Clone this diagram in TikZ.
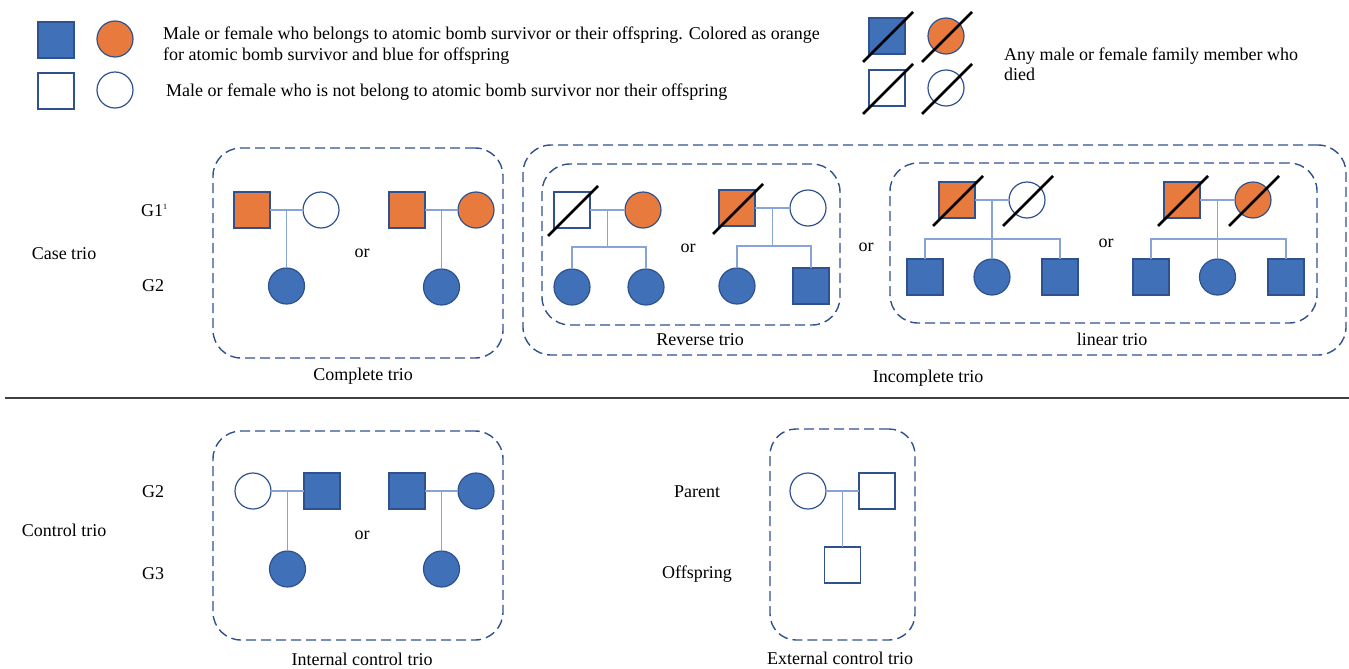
\documentclass[tikz,border=0pt]{standalone}
\usepackage{fontspec}
\setmainfont{Liberation Serif}
\usetikzlibrary{calc}
\definecolor{pblue}{HTML}{3F70B8}
\definecolor{porange}{HTML}{E87A3E}
\definecolor{pline}{HTML}{2F528F}
\definecolor{kinline}{HTML}{86A4D8}
\newcommand\deadmark[1]{\draw[slashline] ([shift={(-24,26)}]#1.center) -- ([shift={(26,-24)}]#1.center);}
\begin{document}
\begin{tikzpicture}[x=1pt,y=-1pt,font=\fontsize{18}{21.6}\selectfont,
  person/.style={draw=pline, line width=1.2pt, inner sep=0pt, outer sep=0pt},
  sq/.style={person, rectangle, minimum size=36pt},
  ci/.style={person, circle, minimum size=36pt},
  fb/.style={fill=pblue}, fo/.style={fill=porange}, fw/.style={fill=white},
  kin/.style={draw=kinline, line width=1.1pt},
  slashline/.style={draw=black, line width=2.8pt},
  dbox/.style={draw=pline, line width=1.4pt, dash pattern=on 10pt off 5pt, rounded corners=28pt, inner sep=0pt, rectangle},
  txt/.style={inner sep=0pt, anchor=base},
  txtw/.style={inner sep=0pt, anchor=base west},
  sepline/.style={draw=black!75, line width=1.2pt}]
\useasboundingbox (0,0) rectangle (1349,669);

% ---------- legend ----------
\node[sq,fb] (lg1) at (56,40) {};
\node[ci,fo] (lg2) at (115,39) {};
\node[sq,fw] (lg3) at (56,91) {};
\node[ci,fw] (lg4) at (115,90) {};
\node[txtw] (lt1) at (163,40) {Male or female who belongs to atomic bomb survivor or their offspring. Colored as orange};
\node[txtw] (lt2) at (163,61) {for atomic bomb survivor and blue for offspring};
\node[txtw] (lt3) at (166,96) {Male or female who is not belong to atomic bomb survivor nor their offspring};

\node[sq,fb] (ld1) at (887,36) {};
\node[ci,fo] (ld2) at (946,36) {};
\node[sq,fw] (ld3) at (887,88) {};
\node[ci,fw] (ld4) at (946,88) {};
\deadmark{ld1}\deadmark{ld2}\deadmark{ld3}\deadmark{ld4}
\node[txtw] (lt4) at (1004,60) {Any male or female family member who};
\node[txtw] (lt5) at (1004,81) {died};

% ---------- case trio labels ----------
\node[txt] (case) at (64,259) {Case trio};
\node[txtw] (g1) at (141,216) {G1\textsuperscript{\fontsize{8}{8}\selectfont 1}};
\node[txtw] (g2a) at (142,291) {G2};

% ---------- complete trio ----------
\node[dbox, minimum width=290pt, minimum height=210pt] (cbox) at (358,253) {};
\node[txt] (clbl) at (363,380) {Complete trio};
\node[sq,fo] (c1f) at (252,210) {};
\node[ci,fw] (c1m) at (321,210) {};
\coordinate (c1x) at ($(c1f.east)!.5!(c1m.west)$);
\node[ci,fb] (c1k) at ($(c1x)+(0,76)$) {};
\draw[kin] (c1f) -- (c1m);
\draw[kin] (c1x) -- (c1k.north);
\node[txt] (or1) at (362,257) {or};
\node[sq,fo] (c2f) at (407,210) {};
\node[ci,fo] (c2m) at (476,210) {};
\coordinate (c2x) at ($(c2f.east)!.5!(c2m.west)$);
\node[ci,fb] (c2k) at ($(c2x)+(0,77)$) {};
\draw[kin] (c2f) -- (c2m);
\draw[kin] (c2x) -- (c2k.north);

% ---------- incomplete trio ----------
\node[dbox, minimum width=823pt, minimum height=210pt] (ibox) at (934.5,250) {};
\node[txt] (ilbl) at (928,382) {Incomplete trio};
\node[txt] (or3) at (866,251) {or};

% reverse trio
\node[dbox, minimum width=298pt, minimum height=161pt] (rbox) at (691,244.5) {};
\node[txt] (rlbl) at (700,345) {Reverse trio};
\node[sq,fw] (r1f) at (572,210) {};
\node[ci,fo] (r1m) at (643,210) {};
\deadmark{r1f}
\coordinate (r1x) at ($(r1f.east)!.5!(r1m.west)$);
\coordinate (r1b) at ($(r1x)+(0,37)$);
\node[ci,fb] (r1k1) at (572,287) {};
\node[ci,fb] (r1k2) at (646,287) {};
\draw[kin] (r1f) -- (r1m);
\draw[kin] (r1x) -- (r1b);
\draw[kin] (r1k1.north) |- (r1b) -| (r1k2.north);
\node[txt] (or2) at (688,252) {or};
\node[sq,fo] (r2f) at (737,208) {};
\node[ci,fw] (r2m) at (808,208) {};
\deadmark{r2f}
\coordinate (r2x) at ($(r2f.east)!.5!(r2m.west)$);
\coordinate (r2b) at ($(r2x)+(0,38)$);
\node[ci,fb] (r2k1) at (737,286) {};
\node[sq,fb] (r2k2) at (811,286) {};
\draw[kin] (r2f) -- (r2m);
\draw[kin] (r2x) -- (r2b);
\draw[kin] (r2k1.north) |- (r2b) -| (r2k2.north);

% linear trio
\node[dbox, minimum width=427pt, minimum height=160pt] (lbox) at (1103.5,243) {};
\node[txt] (llbl) at (1112,345) {linear trio};
\node[sq,fo] (l1f) at (957,200) {};
\node[ci,fw] (l1m) at (1027,200) {};
\deadmark{l1f}\deadmark{l1m}
\coordinate (l1x) at ($(l1f.east)!.5!(l1m.west)$);
\coordinate (l1b) at ($(l1x)+(0,39)$);
\node[sq,fb] (l1k1) at (925,277) {};
\node[ci,fb] (l1k2) at ($(l1x)+(0,77)$) {};
\node[sq,fb] (l1k3) at (1060,277) {};
\draw[kin] (l1f) -- (l1m);
\draw[kin] (l1x) -- (l1k2.north);
\draw[kin] (l1k1.north) |- (l1b) -| (l1k3.north);
\node[txt] (or4) at (1106,247) {or};
\node[sq,fo] (l2f) at (1182,200) {};
\node[ci,fo] (l2m) at (1253,200) {};
\deadmark{l2f}\deadmark{l2m}
\coordinate (l2x) at ($(l2f.east)!.5!(l2m.west)$);
\coordinate (l2b) at ($(l2x)+(0,39)$);
\node[sq,fb] (l2k1) at (1151,277) {};
\node[ci,fb] (l2k2) at ($(l2x)+(0,77)$) {};
\node[sq,fb] (l2k3) at (1286,277) {};
\draw[kin] (l2f) -- (l2m);
\draw[kin] (l2x) -- (l2k2.north);
\draw[kin] (l2k1.north) |- (l2b) -| (l2k3.north);

% ---------- separator ----------
\coordinate (sepL) at (5,398);
\coordinate (sepR) at (1349,398);
\draw[sepline] (sepL) -- (sepR);

% ---------- control trio ----------
\node[txt] (ctrl) at (64,536) {Control trio};
\node[txtw] (g2b) at (142,497) {G2};
\node[txtw] (g3) at (142,579) {G3};

\node[dbox, minimum width=290pt, minimum height=209pt] (intbox) at (358,535.5) {};
\node[txt] (intlbl) at (362,665) {Internal control trio};
\node[ci,fw] (i1a) at (253,491) {};
\node[sq,fb] (i1b) at (322,491) {};
\coordinate (i1x) at ($(i1a.east)!.5!(i1b.west)$);
\node[ci,fb] (i1k) at ($(i1x)+(0,78)$) {};
\draw[kin] (i1a) -- (i1b);
\draw[kin] (i1x) -- (i1k.north);
\node[txt] (or5) at (362,539) {or};
\node[sq,fb] (i2a) at (407,491) {};
\node[ci,fb] (i2b) at (476,491) {};
\coordinate (i2x) at ($(i2a.east)!.5!(i2b.west)$);
\node[ci,fb] (i2k) at ($(i2x)+(0,78)$) {};
\draw[kin] (i2a) -- (i2b);
\draw[kin] (i2x) -- (i2k.north);

\node[txt] (par) at (697,497) {Parent};
\node[txt] (off) at (697,578) {Offspring};
\node[dbox, minimum width=145pt, minimum height=211pt, rounded corners=26pt] (extbox) at (842.5,534.5) {};
\node[txt] (extlbl) at (840,664) {External control trio};
\node[ci,fw] (e1) at (808,491) {};
\node[sq,fw] (e2) at (877,491) {};
\coordinate (ex) at ($(e1.east)!.5!(e2.west)$);
\node[sq,fw] (ek) at ($(ex)+(0,74)$) {};
\draw[kin] (e1) -- (e2);
\draw[kin] (ex) -- (ek.north);
\end{tikzpicture}
\end{document}
